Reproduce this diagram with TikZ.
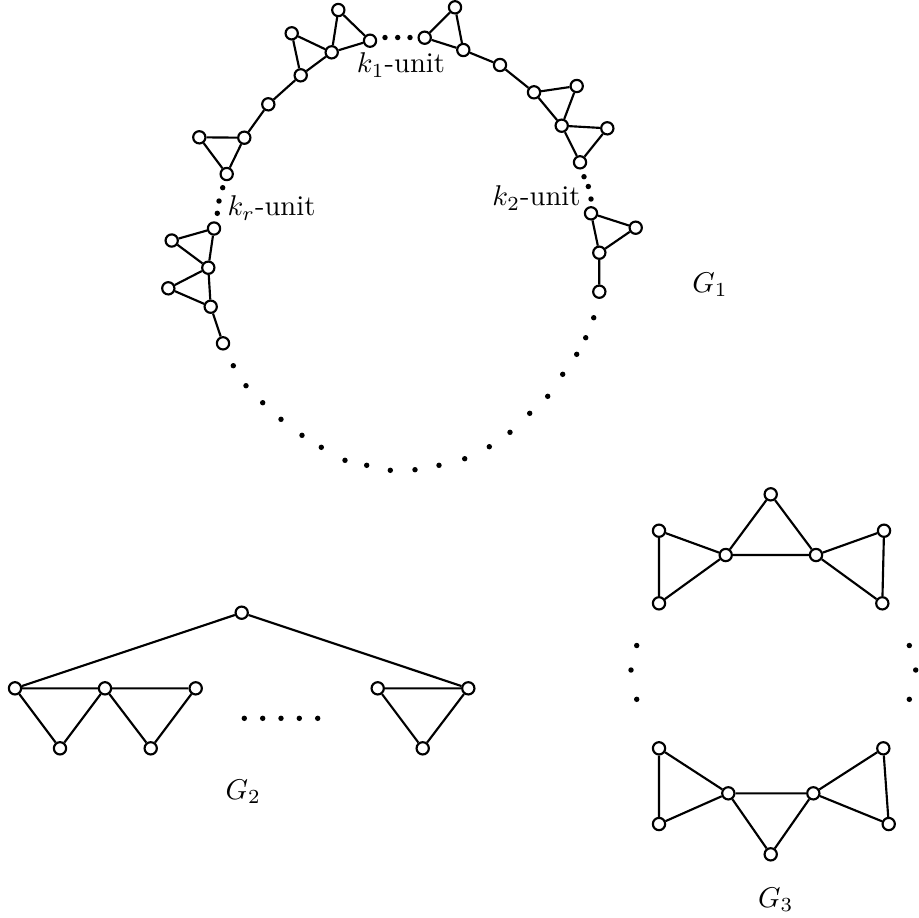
\documentclass[tikz,border=0pt]{standalone}
\begin{document}
\begin{tikzpicture}[x=0.35pt,y=-0.35pt,
  v/.style={circle,draw,fill=white,line width=0.75pt,minimum size=4.3pt,inner sep=0pt},
  d/.style={circle,fill=black,inner sep=0pt,minimum size=1.9pt},
  e/.style={line width=0.75pt}]
\useasboundingbox (0,0) rectangle (919,917);
% ---------- G1 ----------
\node[v] (A) at (338.3,10) {};
\node[v] (B) at (291.7,33.3) {};
\node[v] (C) at (331.7,52.3) {};
\node[v] (D) at (370,40.7) {};
\node[v] (E) at (300.7,75.3) {};
\node[v] (F) at (268.3,104.3) {};
\node[v] (G) at (244.3,137.7) {};
\node[v] (H) at (199.3,137.3) {};
\node[v] (I) at (226.7,174) {};
\node[v] (L) at (424.7,37.7) {};
\node[v] (M) at (455,7.3) {};
\node[v] (N) at (463.3,50) {};
\node[v] (O) at (500,65) {};
\node[v] (P) at (534,92.3) {};
\node[v] (Q) at (576.7,86) {};
\node[v] (R) at (561.7,125.7) {};
\node[v] (S) at (607.3,128.3) {};
\node[v] (T) at (580,162.3) {};
\node[v] (U) at (591,213.3) {};
\node[v] (V) at (635.7,227.7) {};
\node[v] (W) at (599.3,252.7) {};
\node[v] (X) at (599.3,291.7) {};
\node[v] (J) at (214,228.5) {};
\node[v] (K) at (171.7,240.5) {};
\node[v] (Y) at (208.3,267.7) {};
\node[v] (Z) at (168.3,288.3) {};
\node[v] (AA) at (210.7,306.7) {};
\node[v] (AB) at (223,343.3) {};
\draw[e] (B)--(C) (B)--(E) (C)--(E) (A)--(C) (A)--(D) (C)--(D)
  (E)--(F) (F)--(G) (G)--(H) (H)--(I) (G)--(I)
  (L)--(M) (L)--(N) (M)--(N) (N)--(O) (O)--(P) (P)--(Q) (Q)--(R) (P)--(R)
  (R)--(S) (S)--(T) (R)--(T)
  (U)--(V) (U)--(W) (V)--(W) (W)--(X)
  (J)--(K) (J)--(Y) (K)--(Y) (Y)--(Z) (Y)--(AA) (Z)--(AA) (AA)--(AB);
% dots
\foreach \p [count=\i] in {(385,37.5),(397.7,37.5),(410,37.5),
  (584,176.7),(588.3,186.5),(591,199),
  (222.7,187.7),(219,201),(217.3,213.3),
  (233.3,365.7),(246,385.7),(262.7,402.7),(281,419.3),(302,435.3),(321.3,447.3),(345,460.3),(366.7,465.3),(390.3,470.3),(415,469.7),(439,465.3),(464.7,458.7),(489.3,446.7),(510,432.3),(529.7,413.3),(547.7,396.3),(562.7,374.3),(576.7,354.3),(585.7,337.7),(593.7,317.7)}
  \node[d] (g1d\i) at \p {};
\node (k1) at (401,65) {$k_1$-unit};
\node (kr) at (271.5,208) {$k_r$-unit};
\node (k2) at (536.5,198) {$k_2$-unit};
\node (G1) at (710,285) {$G_1$};
% ---------- G2 ----------
\node[v] (t) at (241.7,612.7) {};
\node[v] (a1) at (15,688.3) {};
\node[v] (a2) at (105,688.3) {};
\node[v] (a3) at (195.7,688.3) {};
\node[v] (b1) at (60,748.3) {};
\node[v] (b2) at (150.7,748.3) {};
\node[v] (c1) at (377.7,688.3) {};
\node[v] (c2) at (468.3,688.3) {};
\node[v] (c3) at (422.7,748.3) {};
\draw[e] (t)--(a1) (t)--(c2) (a1)--(a2) (a2)--(a3) (a1)--(b1) (b1)--(a2)
  (a2)--(b2) (b2)--(a3) (c1)--(c2) (c1)--(c3) (c3)--(c2);
\foreach \x [count=\i] in {244.3,262.7,281,299.3,317.7}
  \node[d] (g2d\i) at (\x,718.3) {};
\node (G2) at (243.3,791.7) {$G_2$};
% ---------- G3 ----------
\node[v] (pk) at (770.7,494.3) {};
\node[v] (tl) at (659,530.7) {};
\node[v] (bl) at (659,603.3) {};
\node[v] (cl) at (725.7,555) {};
\node[v] (cr) at (816,555) {};
\node[v] (tr) at (884,530.7) {};
\node[v] (br) at (882.3,603.3) {};
\draw[e] (tl)--(bl) (tl)--(cl) (bl)--(cl) (cl)--(pk) (pk)--(cr) (cl)--(cr)
  (cr)--(tr) (cr)--(br) (tr)--(br);
\node[v] (tl2) at (659,748.3) {};
\node[v] (bl2) at (659,824) {};
\node[v] (cl2) at (728.3,793.3) {};
\node[v] (cr2) at (813.3,793.3) {};
\node[v] (tr2) at (883.3,748.3) {};
\node[v] (br2) at (888.7,824) {};
\node[v] (bp) at (770.7,854.3) {};
\draw[e] (tl2)--(bl2) (tl2)--(cl2) (bl2)--(cl2) (cl2)--(cr2) (cl2)--(bp) (bp)--(cr2)
  (cr2)--(tr2) (cr2)--(br2) (tr2)--(br2);
\foreach \p [count=\i] in {(636.7,645.5),(631,670),(636.7,699.3),(909.3,645.5),(915.7,670),(909.3,699.3)}
  \node[d] (g3d\i) at \p {};
\node (G3) at (775.7,900) {$G_3$};
\end{tikzpicture}
\end{document}
